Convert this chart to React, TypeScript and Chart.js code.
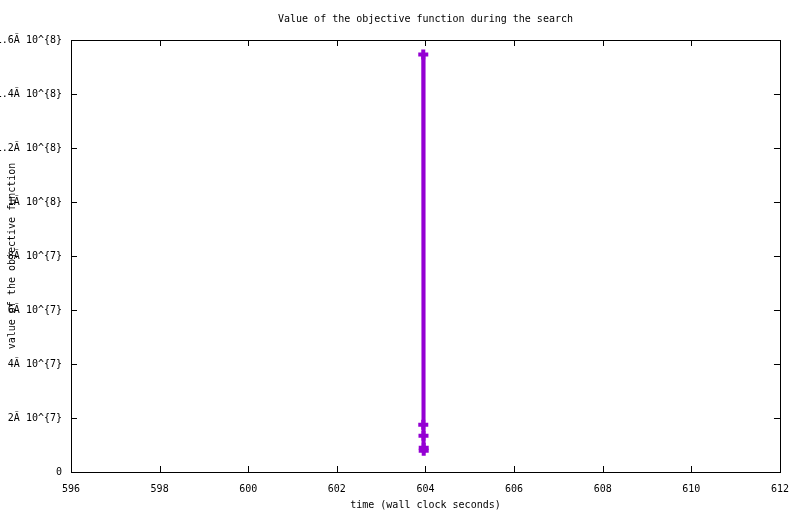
import React, { useEffect, useRef } from "react";
import { Chart, registerables } from "chart.js";

Chart.register(...registerables);

const TITLE = "Value of the objective function during the search";
const X_LABEL = "time (wall clock seconds)";
const Y_LABEL = "value of the objective function";

const timeValues = [603.95, 603.95, 603.955, 603.96, 603.96];
const objectiveValues = [154600000, 17500000, 13400000, 9000000, 7900000];

const X_MIN = 596;
const X_MAX = 612;
const X_STEP = 2;
const Y_MIN = 0;
const Y_MAX = 160000000;
const Y_STEP = 20000000;

const FONT_FAMILY = "'DejaVu Sans Mono', monospace";
const FONT_SIZE = 10;
const COLOR = "#9400D3";

function yTickLabel(v: number): string {
  if (v === 0) return "0";
  const exp = Math.floor(Math.log10(v) + 1e-9);
  const mant = Math.round((v / Math.pow(10, exp)) * 10) / 10;
  return `${mant}Ã 10^{${exp}}`;
}

const frameTicks = {
  id: "frameTicks",
  afterDraw(chart: any) {
    const { ctx, chartArea } = chart;
    const { left, right, top, bottom } = chartArea;
    const xs = chart.scales.x;
    const ys = chart.scales.y;
    const len = 6;
    ctx.save();
    ctx.strokeStyle = "#000";
    ctx.lineWidth = 1;
    ctx.beginPath();
    xs.ticks.forEach((t: any) => {
      const px = Math.round(xs.getPixelForValue(t.value)) + 0.5;
      ctx.moveTo(px, bottom);
      ctx.lineTo(px, bottom - len);
      ctx.moveTo(px, top);
      ctx.lineTo(px, top + len);
    });
    ys.ticks.forEach((t: any) => {
      const py = Math.round(ys.getPixelForValue(t.value)) + 0.5;
      ctx.moveTo(left, py);
      ctx.lineTo(left + len, py);
      ctx.moveTo(right, py);
      ctx.lineTo(right - len, py);
    });
    ctx.stroke();
    ctx.strokeRect(Math.round(left) + 0.5, Math.round(top) + 0.5, Math.round(right - left), Math.round(bottom - top));
    ctx.restore();
  },
};

export default function App() {
  const canvasRef = useRef<HTMLCanvasElement | null>(null);

  useEffect(() => {
    document.body.style.margin = "0";
    const canvas = canvasRef.current;
    if (!canvas) return;
    const font = { family: FONT_FAMILY, size: FONT_SIZE, lineHeight: "12px", weight: "normal" as const };
    const chart = new Chart(canvas, {
      type: "scatter",
      data: {
        datasets: [
          {
            data: timeValues.map((t, i) => ({ x: t, y: objectiveValues[i] })),
            showLine: true,
            borderColor: COLOR,
            backgroundColor: COLOR,
            borderWidth: 4,
            pointStyle: "cross",
            pointRadius: 5,
            pointBorderWidth: 4,
            pointBorderColor: COLOR,
            pointHoverRadius: 5,
          },
        ],
      },
      plugins: [frameTicks],
      options: {
        responsive: false,
        animation: false,
        devicePixelRatio: 1,
        layout: { padding: { left: 0, right: 19, top: 0, bottom: 0 } },
        plugins: {
          legend: { display: false },
          tooltip: { enabled: false },
          title: {
            display: true,
            fullSize: false,
            text: TITLE,
            color: "#000",
            font,
            padding: { top: 13, bottom: 15 },
          },
        },
        scales: {
          x: {
            type: "linear",
            min: X_MIN,
            max: X_MAX,
            grid: { display: false, drawTicks: false },
            border: { display: false },
            ticks: {
              stepSize: X_STEP,
              color: "#000",
              font,
              padding: 11,
              maxRotation: 0,
              autoSkip: false,
            },
            title: {
              display: true,
              text: X_LABEL,
              color: "#000",
              font,
              padding: { top: 0, bottom: 3 },
            },
            afterFit(scale: any) {
              scale.height = 42;
            },
          },
          y: {
            type: "linear",
            min: Y_MIN,
            max: Y_MAX,
            grid: { display: false, drawTicks: false },
            border: { display: false },
            ticks: {
              stepSize: Y_STEP,
              color: "#000",
              font,
              padding: 9,
              autoSkip: false,
              callback: (v: any) => yTickLabel(Number(v)),
            },
            title: {
              display: true,
              text: Y_LABEL,
              color: "#000",
              font,
              padding: { top: 6, bottom: 0 },
            },
            afterFit(scale: any) {
              scale.width = 71;
            },
          },
        },
      },
    });
    return () => chart.destroy();
  }, []);

  return (
    <div style={{ position: "absolute", left: 0, top: 0, width: 800, height: 514, background: "#fff" }}>
      <canvas ref={canvasRef} width={800} height={514} style={{ display: "block" }} />
    </div>
  );
}
